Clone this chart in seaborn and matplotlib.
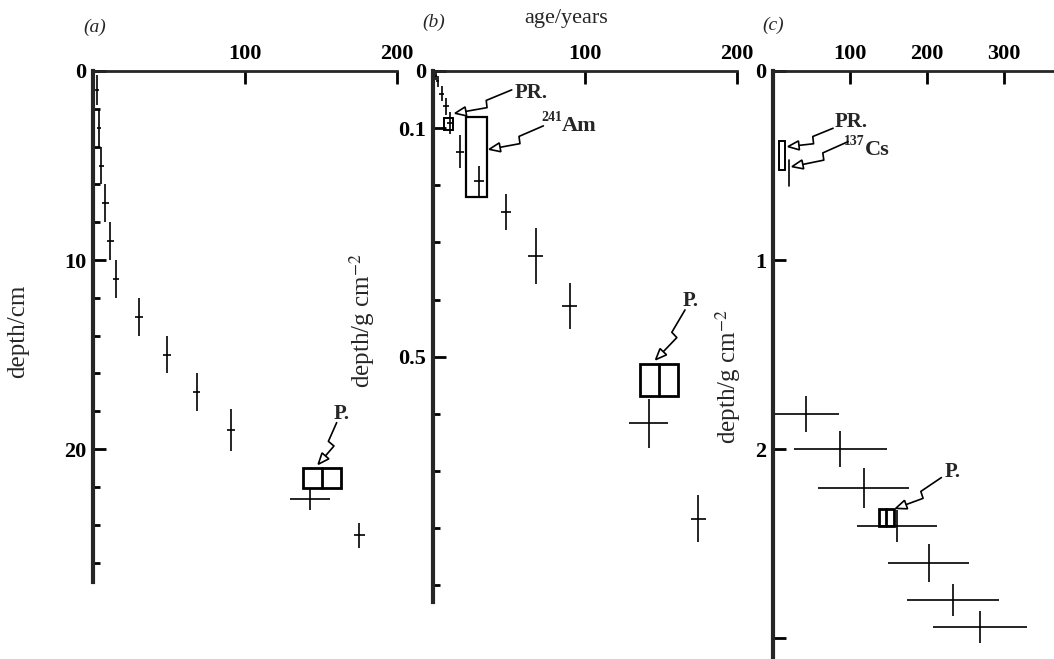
import numpy as np
import matplotlib
matplotlib.use("Agg")
import matplotlib.pyplot as plt
import seaborn as sns
from matplotlib.lines import Line2D
from matplotlib.patches import Polygon, Rectangle
from matplotlib.transforms import IdentityTransform

# panel (a): age / years against depth / cm
age_a = [2.4, 4.0, 5.5, 8.2, 11.5, 15.4, 30.2, 48.8, 68.2, 90.9, 142.6, 175.3]
age_err_a = [1.5, 1.5, 1.5, 2.0, 2.0, 2.0, 2.5, 2.5, 2.5, 2.7, 13.0, 3.5]
depth_a = [1.0, 3.0, 5.0, 7.0, 9.0, 11.0, 13.0, 15.0, 17.0, 19.0, 22.65, 24.57]
depth_err_a = [0.8, 1.0, 1.0, 1.0, 1.0, 1.0, 1.0, 1.0, 1.0, 1.1, 0.55, 0.68]

# panel (b): age / years against depth / g cm-2
age_b = [1.8, 3.0, 5.7, 8.4, 11.0, 17.8, 30.3, 48.0, 67.6, 90.0, 142.0, 174.5]
age_err_b = [1.0, 1.0, 1.5, 2.0, 2.0, 2.5, 3.0, 3.0, 5.0, 5.0, 12.8, 5.0]
depth_b = [0.008, 0.018, 0.040, 0.062, 0.091, 0.141, 0.192, 0.247, 0.323, 0.411, 0.616, 0.783]
depth_err_b = [0.008, 0.010, 0.013, 0.015, 0.020, 0.029, 0.026, 0.032, 0.049, 0.040, 0.043, 0.041]

# panel (c): age / years against depth / g cm-2
age_c = [43.4, 87.5, 118.0, 161.6, 202.0, 234.0, 269.0]
age_err_c = [42.6, 60.0, 59.0, 52.0, 53.0, 60.0, 61.0]
depth_c = [1.815, 2.0, 2.205, 2.407, 2.605, 2.80, 2.94]
depth_err_c = [0.097, 0.093, 0.107, 0.084, 0.10, 0.084, 0.085]

# marker boxes: (age from, age to, depth from, depth to)
p_box_a = (138.0, 163.0, 21.0, 22.05)
p_box_b = (136.3, 161.3, 0.512, 0.569)
p_box_c = (137.7, 156.8, 2.32, 2.405)
pr_box_b = (7.5, 13.4, 0.082, 0.103)
am_box_b = (21.5, 35.3, 0.080, 0.221)
pr_box_c = (7.8, 15.2, 0.37, 0.524)
cs_line_c = (20.8, 0.47, 0.61)

sns.set_style("white")
plt.rcParams["font.family"] = ["Liberation Serif", "DejaVu Serif"]
plt.rcParams["mathtext.fontset"] = "stix"

fig = plt.figure(figsize=(10.54, 6.59), dpi=100)
W, H = 1054, 659


def make_axes(left, top, right, bottom):
    return fig.add_axes([left / W, 1 - bottom / H, (right - left) / W, (bottom - top) / H])


def style_axes(ax):
    sns.despine(ax=ax, top=False, right=True, left=False, bottom=True)
    ax.spines["left"].set_linewidth(3.0)
    ax.spines["top"].set_linewidth(2.0)
    ax.xaxis.tick_top()
    ax.tick_params(which="both", direction="in", width=2.0, colors="black",
                   labelsize=16, pad=5)
    ax.tick_params(which="major", length=9)
    ax.tick_params(which="minor", length=4.8)
    ax.tick_params(axis="x", which="both", bottom=False, top=True, labeltop=True, labelbottom=False)
    ax.tick_params(axis="y", which="both", left=True, right=False)
    ax.set_facecolor("none")


def bold_ticks(ax):
    for lbl in ax.get_xticklabels() + ax.get_yticklabels():
        lbl.set_fontweight("bold")


def crosses(ax, x, xe, y, ye):
    ax.errorbar(x, y, xerr=xe, yerr=ye, fmt="none", ecolor="black",
                elinewidth=1.2, capsize=0)


def box(ax, b, lw=2.0, centre=False):
    x0, x1, y0, y1 = b
    ax.add_patch(Rectangle((x0, y0), x1 - x0, y1 - y0, fill=False,
                           edgecolor="black", linewidth=lw, zorder=3))
    if centre:
        xm = (x0 + x1) / 2
        ax.plot([xm, xm], [y0, y1], color="black", lw=lw, zorder=3)


def isotope_label(ax, x, y, mass, sym):
    ax.text(x, y, sym, fontsize=16, fontweight="bold", ha="left", va="baseline")
    ax.annotate(mass, xy=(x, y), xytext=(0, 7), textcoords="offset points",
                fontsize=10, fontweight="bold", ha="right", va="baseline")


def zigzag_arrow(ax, start, tip):
    p0 = ax.transData.transform(start)
    p1 = ax.transData.transform(tip)
    d = p1 - p0
    L = np.hypot(*d)
    u = d / L
    n = np.array([-u[1], u[0]])
    a = p0 + u * L * 0.45
    b = a + n * 7 + u * 2
    u2 = (p1 - b) / np.hypot(*(p1 - b))
    n2 = np.array([-u2[1], u2[0]])
    base = p1 - u2 * 11
    pts = np.array([p0, a, b, base])
    fig.add_artist(Line2D(pts[:, 0], pts[:, 1], color="black", lw=1.2,
                          transform=IdentityTransform()))
    head = np.array([p1, base + n2 * 4.5, base - n2 * 4.5])
    fig.add_artist(Polygon(head, closed=True, facecolor="white", edgecolor="black",
                           lw=1.2, transform=IdentityTransform(), zorder=5))


# ---- panel (a)
ax_a = make_axes(93, 71, 397, 582)
style_axes(ax_a)
ax_a.set_xlim(0, 200)
ax_a.set_ylim(27.03, 0)
ax_a.set_xticks([100, 200])
ax_a.set_yticks([0, 10, 20])
ax_a.set_yticks([2, 4, 6, 8, 12, 14, 16, 18, 22, 24, 26], minor=True)
crosses(ax_a, age_a, age_err_a, depth_a, depth_err_a)
box(ax_a, p_box_a, lw=2.0, centre=True)
ax_a.text(158.5, 18.4, "P.", fontsize=15, fontweight="bold", ha="left", va="baseline")
ax_a.set_ylabel("depth/cm", fontsize=18)
ax_a.yaxis.set_label_coords(-0.21, 0.49)
bold_ticks(ax_a)

# ---- panel (b)
ax_b = make_axes(433, 71, 737, 602)
style_axes(ax_b)
ax_b.set_xlim(0, 200)
ax_b.set_ylim(0.929, 0)
ax_b.set_xticks([100, 200])
ax_b.set_yticks([0, 0.1, 0.5])
ax_b.set_yticklabels(["0", "0.1", "0.5"])
ax_b.set_yticks([0.2, 0.3, 0.4, 0.6, 0.7, 0.8, 0.9], minor=True)
crosses(ax_b, age_b, age_err_b, depth_b, depth_err_b)
box(ax_b, p_box_b, lw=2.0, centre=True)
box(ax_b, pr_box_b, lw=1.4)
box(ax_b, am_box_b, lw=1.6)
ax_b.text(164.5, 0.411, "P.", fontsize=15, fontweight="bold", ha="left", va="baseline")
ax_b.text(54.0, 0.048, "PR.", fontsize=15, fontweight="bold", ha="left", va="baseline")
isotope_label(ax_b, 85.0, 0.1045, "241", "Am")
ax_b.set_ylabel("depth/g cm$^{-2}$", fontsize=18)
ax_b.yaxis.set_label_coords(-0.184, 0.53)
bold_ticks(ax_b)

# ---- panel (c)
ax_c = make_axes(773, 71, 1054, 659)
style_axes(ax_c)
ax_c.set_xlim(0, 365)
ax_c.set_ylim(3.111, 0)
ax_c.set_xticks([100, 200, 300])
ax_c.set_yticks([0, 1, 2, 3])
ax_c.set_yticklabels(["0", "1", "2", ""])
crosses(ax_c, age_c, age_err_c, depth_c, depth_err_c)
box(ax_c, p_box_c, lw=2.0, centre=True)
box(ax_c, pr_box_c, lw=1.4)
ax_c.plot([cs_line_c[0]] * 2, cs_line_c[1:], color="black", lw=1.2)
ax_c.text(223.0, 2.147, "P.", fontsize=15, fontweight="bold", ha="left", va="baseline")
ax_c.text(80.0, 0.295, "PR.", fontsize=15, fontweight="bold", ha="left", va="baseline")
isotope_label(ax_c, 119.0, 0.444, "137", "Cs")
ax_c.set_ylabel("depth/g cm$^{-2}$", fontsize=18)
ax_c.yaxis.set_label_coords(-0.107, 0.48)
bold_ticks(ax_c)

# arrows from labels to marks
zigzag_arrow(ax_a, (160.3, 18.6), (148.2, 20.8))
zigzag_arrow(ax_b, (165.8, 0.418), (146.5, 0.505))
zigzag_arrow(ax_b, (51.8, 0.033), (14.5, 0.074))
zigzag_arrow(ax_b, (72.6, 0.096), (37.0, 0.137))
zigzag_arrow(ax_c, (78.0, 0.303), (19.5, 0.40))
zigzag_arrow(ax_c, (97.4, 0.374), (24.7, 0.506))
zigzag_arrow(ax_c, (218.7, 2.151), (159.4, 2.314))

# panel letters and shared x label
fig.text(95 / W, 1 - 27 / H, "(a)", fontsize=14, style="italic", ha="center", va="center")
fig.text(434 / W, 1 - 22 / H, "(b)", fontsize=14, style="italic", ha="center", va="center")
fig.text(773 / W, 1 - 25 / H, "(c)", fontsize=14, style="italic", ha="center", va="center")
fig.text(566 / W, 1 - 18 / H, "age/years", fontsize=16, ha="center", va="center")

fig.savefig("out.png", dpi=100)
